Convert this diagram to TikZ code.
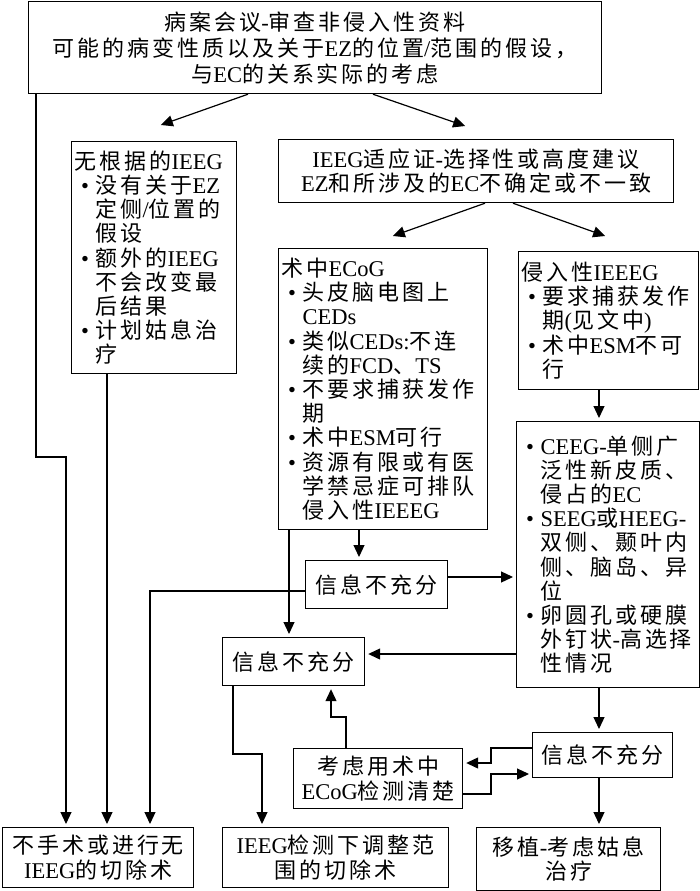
\documentclass[tikz,border=0pt]{standalone}
\usepackage{fontspec}
\setmainfont{Noto Sans CJK SC}[LetterSpace=13.5]
\newfontfamily\latinfont{Liberation Serif}[Scale=1.023]
\newcommand*{\lat}[1]{{\latinfont #1}}
\newcommand*{\bul}{\makebox[21pt][c]{\lat{•}}}
\newcommand*{\ind}{\makebox[21pt]{}}
\usetikzlibrary{arrows.meta}
\tikzset{
    box/.style = {draw,line width=1.2pt,anchor=north west,inner sep=3pt,
        font=\fontsize{22}{24.2}\selectfont},
    textbox/.style = {box,align=center},
    listbox/.style = {box,align=left},
    flow/.style = {line width=1.2pt,-{Triangle[length=12pt,width=11pt]},shorten >=3pt}
}
\begin{document}
\begin{tikzpicture}[x=1pt,y=-1pt]
        \useasboundingbox (0,0) rectangle (700,891);
        % Case conference
        \node[textbox,minimum width=573,minimum height=92,
            font=\fontsize{22}{26}\selectfont] (case) at (28,1)
            {病案会议\lat{-}审查非侵入性资料\\
             可能的病变性质以及关于\lat{EZ}的位置\lat{/}范围的假设，\\
             与\lat{EC}的关系实际的考虑};
        % Second row
        \node[listbox,text width=159pt,minimum height=232] (nobasis) at (71,141)
            {无根据的\lat{IEEG}\\
             \bul 没有关于\lat{EZ}\\ \ind 定侧\lat{/}位置的\\ \ind 假设\\
             \bul 额外的\lat{IEEG}\\ \ind 不会改变最\\ \ind 后结果\\
             \bul 计划姑息治\\ \ind 疗};
        \node[textbox,minimum width=395,minimum height=63] (indic) at (278,139)
            {\lat{IEEG}适应证\lat{-}选择性或高度建议\\
             \lat{EZ}和所涉及的\lat{EC}不确定或不一致};
        % Methods
        \node[listbox,text width=203pt,minimum height=281] (ecog) at (278,248)
            {术中\lat{ECoG}\\
             \bul 头皮脑电图上\\ \ind\lat{CEDs}\\
             \bul 类似\lat{CEDs:}不连\\ \ind 续的\lat{FCD}、\lat{TS}\\
             \bul 不要求捕获发作\\ \ind 期\\
             \bul 术中\lat{ESM}可行\\
             \bul 资源有限或有医\\ \ind 学禁忌症可排队\\ \ind 侵入性\lat{IEEEG}};
        \node[listbox,text width=174pt,minimum height=138] (invas) at (518,251)
            {侵入性\lat{IEEEG}\\
             \bul 要求捕获发作\\ \ind 期\lat{(}见文中\lat{)}\\
             \bul 术中\lat{ESM}不可\\ \ind 行};
        \node[listbox,text width=177pt,minimum height=266] (ceeg) at (516,421)
            {\bul\lat{CEEG-}单侧广\\ \ind 泛性新皮质、\\ \ind 侵占的\lat{EC}\\
             \bul\lat{SEEG}或\lat{HEEG-}\\ \ind 双侧、颞叶内\\ \ind 侧、脑岛、异\\ \ind 位\\
             \bul 卵圆孔或硬膜\\ \ind 外钉状\lat{-}高选择\\ \ind 性情况};
        % Insufficient information
        \node[textbox,minimum width=142,minimum height=48] (info1) at (305,560) {信息不充分};
        \node[textbox,minimum width=142,minimum height=48] (info2) at (222,637) {信息不充分};
        \node[textbox,minimum width=140,minimum height=45] (info3) at (532,732) {信息不充分};
        \node[textbox,minimum width=169,minimum height=60] (consider) at (293,748)
            {考虑用术中\\ \lat{ECoG}检测清楚};
        % Outcomes
        \node[textbox,minimum width=191,minimum height=60] (out1) at (2,827)
            {不手术或进行无\\ \lat{IEEG}的切除术};
        \node[textbox,minimum width=226,minimum height=60] (out2) at (222,827)
            {\lat{IEEG}检测下调整范\\ 围的切除术};
        \node[textbox,minimum width=184,minimum height=63] (out3) at (476,827)
            {移植\lat{-}考虑姑息\\ 治疗};
        % Tips, columns and bends
        \path (158,126) coordinate (nbtip)
            (468,127) coordinate (intip)
            (390,237) coordinate (ectip)
            (608,237) coordinate (ivtip)
            (36,457) coordinate (lbend)
            (66,0) coordinate (lcol)
            (107,0) coordinate (nbcol)
            (150,591) coordinate (i1bend)
            (233,754) coordinate (i2bend)
            (262,0) coordinate (o2col)
            (289,0) coordinate (eccola)
            (359,0) coordinate (eccolb)
            (346,717) coordinate (cbend)
            (331,0) coordinate (i2col)
            (599,0) coordinate (rcol)
            (0,577) coordinate (rowa)
            (0,654) coordinate (rowb)
            (491,748) coordinate (kbenda)
            (0,763) coordinate (rowc)
            (491,794) coordinate (kbendb)
            (0,774) coordinate (rowd)
        ;
        % Connectors
        \foreach \src/\shift/\dest in {case/220/nbtip,case/345/intip,indic/207/ectip,indic/235/ivtip}
            \draw[flow] ([xshift=\shift pt]\src.south west) -- (\dest);
        \foreach \src/\col/\dest in {nobasis/nbcol/out1,ecog/eccola/info2,ecog/eccolb/info1,
                invas/rcol/ceeg,ceeg/rcol/info3,info3/rcol/out3}
            \draw[flow] (\src.south -| \col) -- (\col |- \dest.north);
        \draw[flow] (case.south -| lbend) -- (lbend) -| (lcol |- out1.north);
        \draw[flow] (info1.west |- i1bend) -- (i1bend) -- (i1bend |- out1.north);
        \draw[flow] (info1.east |- rowa) -- (ceeg.west |- rowa);
        \draw[flow] (ceeg.west |- rowb) -- (info2.east |- rowb);
        \draw[flow] (info2.south -| i2bend) -- (i2bend) -| (o2col |- out2.north);
        \draw[flow] (consider.north -| cbend) -- (cbend) -| (i2col |- info2.south);
        \draw[flow] (info3.west |- kbenda) -- (kbenda) |- (consider.east |- rowc);
        \draw[flow] (consider.east |- kbendb) -- (kbendb) |- (info3.west |- rowd);
    \end{tikzpicture}
\end{document}
